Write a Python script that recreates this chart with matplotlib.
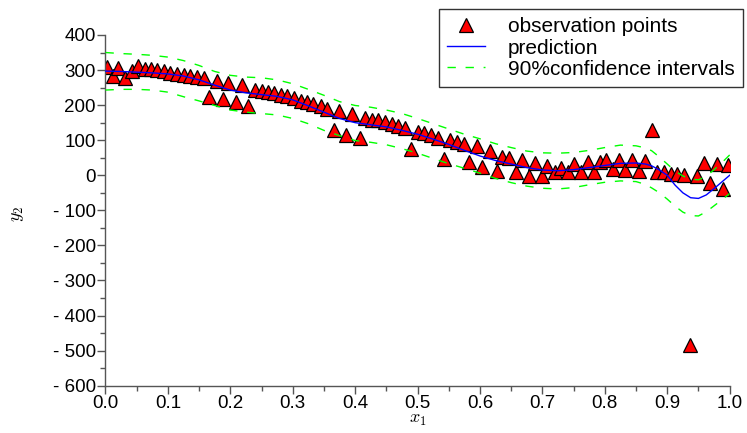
import matplotlib
matplotlib.use("Agg")
import matplotlib.pyplot as plt
from matplotlib.ticker import FixedLocator, FixedFormatter, MultipleLocator

plt.rcParams['font.family'] = ['Liberation Sans', 'DejaVu Sans']
plt.rcParams['mathtext.fontset'] = 'cm'

# observation points
obs_x = [0.002, 0.0115, 0.0205, 0.031, 0.043, 0.0526, 0.063, 0.073, 0.083, 0.094,
         0.104, 0.115, 0.125, 0.135, 0.146, 0.158, 0.166, 0.178, 0.188, 0.197,
         0.2085, 0.218, 0.229, 0.2395, 0.250, 0.260, 0.270, 0.281, 0.291, 0.302,
         0.313, 0.323, 0.333, 0.345, 0.355, 0.366, 0.3745, 0.385, 0.395, 0.408,
         0.416, 0.4265, 0.437, 0.448, 0.4585, 0.469, 0.480, 0.489, 0.500, 0.511,
         0.5215, 0.532, 0.542, 0.552, 0.5635, 0.574, 0.583, 0.5945, 0.603, 0.616,
         0.627, 0.636, 0.646, 0.657, 0.668, 0.678, 0.688, 0.699, 0.708, 0.720,
         0.730, 0.7405, 0.751, 0.762, 0.7725, 0.783, 0.792, 0.802, 0.8125, 0.823,
         0.832, 0.844, 0.855, 0.865, 0.875, 0.884, 0.895, 0.9055, 0.916, 0.927,
         0.9365, 0.947, 0.959, 0.9685, 0.979, 0.989, 0.998]
obs_y = [310, 282, 307, 276, 297, 311, 304, 302, 299, 297,
         293, 290, 287, 283, 280, 276, 223, 268, 217, 262,
         209, 257, 197, 242, 240, 238, 235, 230, 225, 219,
         212, 209, 204, 197, 190, 130, 183, 114, 176, 106,
         162, 157, 157, 152, 147, 141, 136, 74, 123, 121,
         116, 107, 45, 100, 95, 90, 38, 83, 23, 69,
         11, 52, 49, 9, 43, -2, 35, -2, 27, 9,
         21, 9, 31, 9, 38, 9, 38, 43, 19, 43,
         14, 43, 11, 40, 130, 9, 8, 5, 3, 2,
         -485, -3, 35, -22, 31, -40, 28]

# prediction and 90% confidence intervals
curve_x = [0.000, 0.025, 0.050, 0.075, 0.100, 0.125, 0.150, 0.175, 0.200, 0.225,
           0.250, 0.275, 0.300, 0.325, 0.350, 0.375, 0.400, 0.425, 0.450, 0.475,
           0.500, 0.525, 0.550, 0.575, 0.600, 0.625, 0.650, 0.675, 0.700, 0.725,
           0.750, 0.775, 0.800, 0.825, 0.850, 0.865, 0.875, 0.8875, 0.900, 0.9125,
           0.925, 0.9375, 0.950, 0.9625, 0.975, 0.9875, 1.000]
pred_y = [297, 296, 294, 292, 289, 283, 272, 257, 243, 235,
          230, 225, 215, 198, 180, 162, 150, 144, 138, 128,
          117, 103, 88, 71, 55, 42, 32, 22, 15, 13,
          16, 22, 28, 34, 35, 32, 27, 15, 0, -28,
          -50, -64, -66, -56, -38, -19, 0]
upper_y = [350, 347, 345, 342, 337, 327, 313, 296, 285, 280,
           278, 272, 261, 245, 228, 210, 199, 194, 186, 176,
           162, 147, 132, 117, 104, 90, 79, 69, 64, 63,
           65, 71, 79, 86, 84, 78, 70, 52, 32, 12,
           -2, -11, -13, -3, 16, 36, 58]
lower_y = [243, 245, 245, 243, 237, 224, 212, 199, 186, 180,
           176, 172, 162, 147, 128, 113, 99, 94, 87, 76,
           63, 48, 33, 20, 6, -9, -21, -31, -37, -39,
           -35, -27, -20, -16, -18, -26, -36, -50, -68, -88,
           -105, -115, -116, -104, -87, -70, -52]

yticks = [400, 300, 200, 100, 0, -100, -200, -300, -400, -500, -600]
ytick_labels = ['400', '300', '200', '100', '0', '- 100', '- 200', '- 300',
                '- 400', '- 500', '- 600']
xticks = [0.0, 0.1, 0.2, 0.3, 0.4, 0.5, 0.6, 0.7, 0.8, 0.9, 1.0]
xtick_labels = ['0.0', '0.1', '0.2', '0.3', '0.4', '0.5', '0.6', '0.7', '0.8', '0.9', '1.0']

fig = plt.figure(figsize=(7.47, 4.33), dpi=100)
ax = fig.add_axes([0.1412, 0.1092, 0.9768 - 0.1412, 0.9192 - 0.1092])

h1, = ax.plot(obs_x, obs_y, linestyle='none', marker='^', markersize=10,
              markerfacecolor='#ff0000', markeredgecolor='black',
              markeredgewidth=0.9, zorder=2, label='observation points')
h2, = ax.plot(curve_x, pred_y, color='#0000ff', lw=1.0, zorder=3, label='prediction')
h3, = ax.plot(curve_x, upper_y, color='#00ff00', lw=1.0, ls=(0, (6, 7)), zorder=3,
              label='90%confidence intervals')
ax.plot(curve_x, lower_y, color='#00ff00', lw=1.0, ls=(0, (6, 7)), zorder=3)

ax.set_xlim(0, 1)
ax.set_ylim(-600, 400)
ax.spines['top'].set_visible(False)
ax.spines['right'].set_visible(False)
for s in ('left', 'bottom'):
    ax.spines[s].set_color('#555555')
    ax.spines[s].set_linewidth(1.0)

ax.yaxis.set_major_locator(FixedLocator(yticks))
ax.yaxis.set_major_formatter(FixedFormatter(ytick_labels))
ax.yaxis.set_minor_locator(MultipleLocator(50))
ax.xaxis.set_major_locator(FixedLocator(xticks))
ax.xaxis.set_major_formatter(FixedFormatter(xtick_labels))
ax.xaxis.set_minor_locator(MultipleLocator(0.05))
ax.tick_params(which='major', length=6, width=1, color='#555555', labelsize=13.5, pad=1)
ax.tick_params(which='minor', length=3.5, width=1, color='#555555')

ax.set_xlabel('$x_1$', fontsize=13)
ax.xaxis.set_label_coords(0.5, -0.072)
ax.set_ylabel('$y_2$', fontsize=13)
ax.yaxis.set_label_coords(-0.127, 0.49)

leg = fig.legend(handles=[h1, h2, h3], loc='upper right',
                 bbox_to_anchor=(0.9946, 0.979), fontsize=15, frameon=True,
                 fancybox=False, edgecolor='black', borderpad=0.4,
                 labelspacing=0.1, handlelength=1.8, handletextpad=1.1,
                 borderaxespad=0)
leg.get_frame().set_linewidth(1.0)

fig.savefig('out.png', dpi=100)
